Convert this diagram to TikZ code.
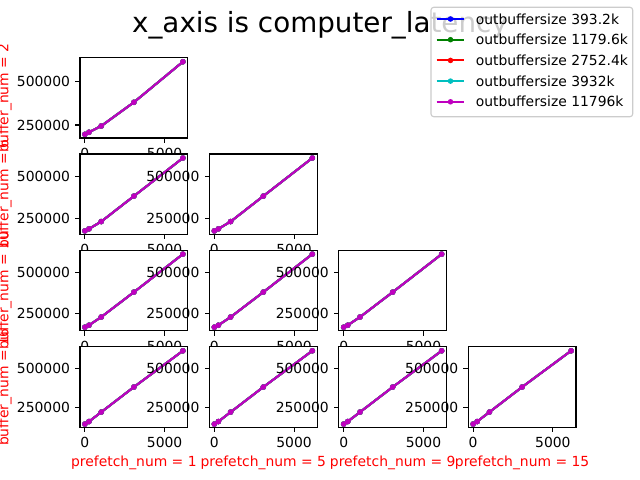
\documentclass[tikz,border=0pt]{standalone}
\usepackage{fontspec}
\setmainfont{DejaVu Sans}

\definecolor{mplb}{rgb}{0,0,1}
\definecolor{mplg}{rgb}{0,0.5,0}
\definecolor{mplr}{rgb}{1,0,0}
\definecolor{mplc}{rgb}{0,0.75,0.75}
\definecolor{mplm}{rgb}{0.75,0,0.75}
\definecolor{legendedge}{gray}{0.8}

\begin{document}
\begin{tikzpicture}[x=0.72pt,y=-0.72pt,
		axframe/.style={draw=black,line width=0.8pt},
		tickmark/.style={line width=0.8pt},
		ticklabel/.style={inner sep=0pt},
		series/.style={line width=1.5pt,line join=round},
		rowlabel/.style={inner sep=0pt,text=red,rotate=90,anchor=base},
		collabel/.style={inner sep=0pt,text=red,anchor=base}]
		\useasboundingbox[fill=white] (0,0) rectangle (640,480);

		%%% SUBPLOTS
		\foreach \r/\ymin/\ymax/\ya/\yb/\yc/\yd/\ye in
			{1/175/639/196/208/244/381/615,
			 2/153/636/174/186/230/383/612,
			 3/143/633.5/165/177/227/379/611,
			 4/126/636/146/162/222/381/611}{
			\foreach \c in {1,...,\r}{
				\pgfmathsetmacro\axleft{80+(\c-1)*129.4}
				\pgfmathsetmacro\axbot{57.6+(\r-1)*96.42+80.35}
				\pgfmathsetmacro\yunit{57.852/(\ymax-\ymin)}
				\begin{scope}[shift={(\axleft,\axbot)},x=11.485pt,y=\yunit pt,shift={(0.307,-\ymin)}]
					\fill[white] (-0.307,\ymin) rectangle (6.451,\ymax);
					\foreach \col in {mplb,mplg,mplr,mplc,mplm}{
						\draw[series,\col] (0,\ya) -- (0.256,\yb) -- (1.024,\yc) -- (3.072,\yd) -- (6.144,\ye);
						\foreach \px/\py in {0/\ya,0.256/\yb,1.024/\yc,3.072/\yd,6.144/\ye}
							\fill[\col] (\px,\py) circle[radius=2pt];
					}
					\draw[axframe] (-0.307,\ymin) rectangle (6.451,\ymax);
					\foreach \t/\lab in {0/0,5/5000}{
						\draw[tickmark] (\t,\ymin) -- ++(0,-3.5pt);
						\node[ticklabel,anchor=base,yshift=-14.6pt] (xtick-\r-\c-\t) at (\t,\ymin) {\lab};
					}
					\foreach \t/\lab in {250/250000,500/500000}{
						\draw[tickmark] (-0.307,\t) -- ++(-3.5pt,0);
						\node[ticklabel,anchor=base east,xshift=-7pt,yshift=-3.65pt] (ytick-\r-\c-\t) at (-0.307,\t) {\lab};
					}
				\end{scope}
			}
		}

		%%% LABELS
		\foreach \r/\n in {1/2,2/6,3/10,4/16}
			\node[rowlabel] (buffer\r) at (8.4,{57.6+(\r-1)*96.42+40.2}) {buffer\_num = \n};
		\foreach \c/\n in {1/1,2/5,3/9,4/15}
			\node[collabel] (prefetch\c) at ({133.9+(\c-1)*129.4},466.5) {prefetch\_num = \n};

		\node[anchor=base,font=\fontsize{20}{24}\selectfont] (title) at (320,32.5) {x\_axis is computer\_latency};

		%%% LEGENDA
		\draw[legendedge,line width=0.8pt,fill=white,fill opacity=0.8,rounded corners=2pt] (431,7.3) rectangle (632.7,116.7);
		\foreach \i/\col/\txt in {0/mplb/393.2k,1/mplg/1179.6k,2/mplr/2752.4k,3/mplc/3932k,4/mplm/11796k}{
			\draw[series,\col] (436.6,{19+\i*20.7}) -- (464.4,{19+\i*20.7});
			\fill[\col] (450.5,{19+\i*20.7}) circle[radius=2pt];
			\node[ticklabel,anchor=base west,yshift=-3.6pt] (entry\i) at (475.5,{19+\i*20.7}) {outbuffersize \txt};
		}
\end{tikzpicture}
\end{document}
